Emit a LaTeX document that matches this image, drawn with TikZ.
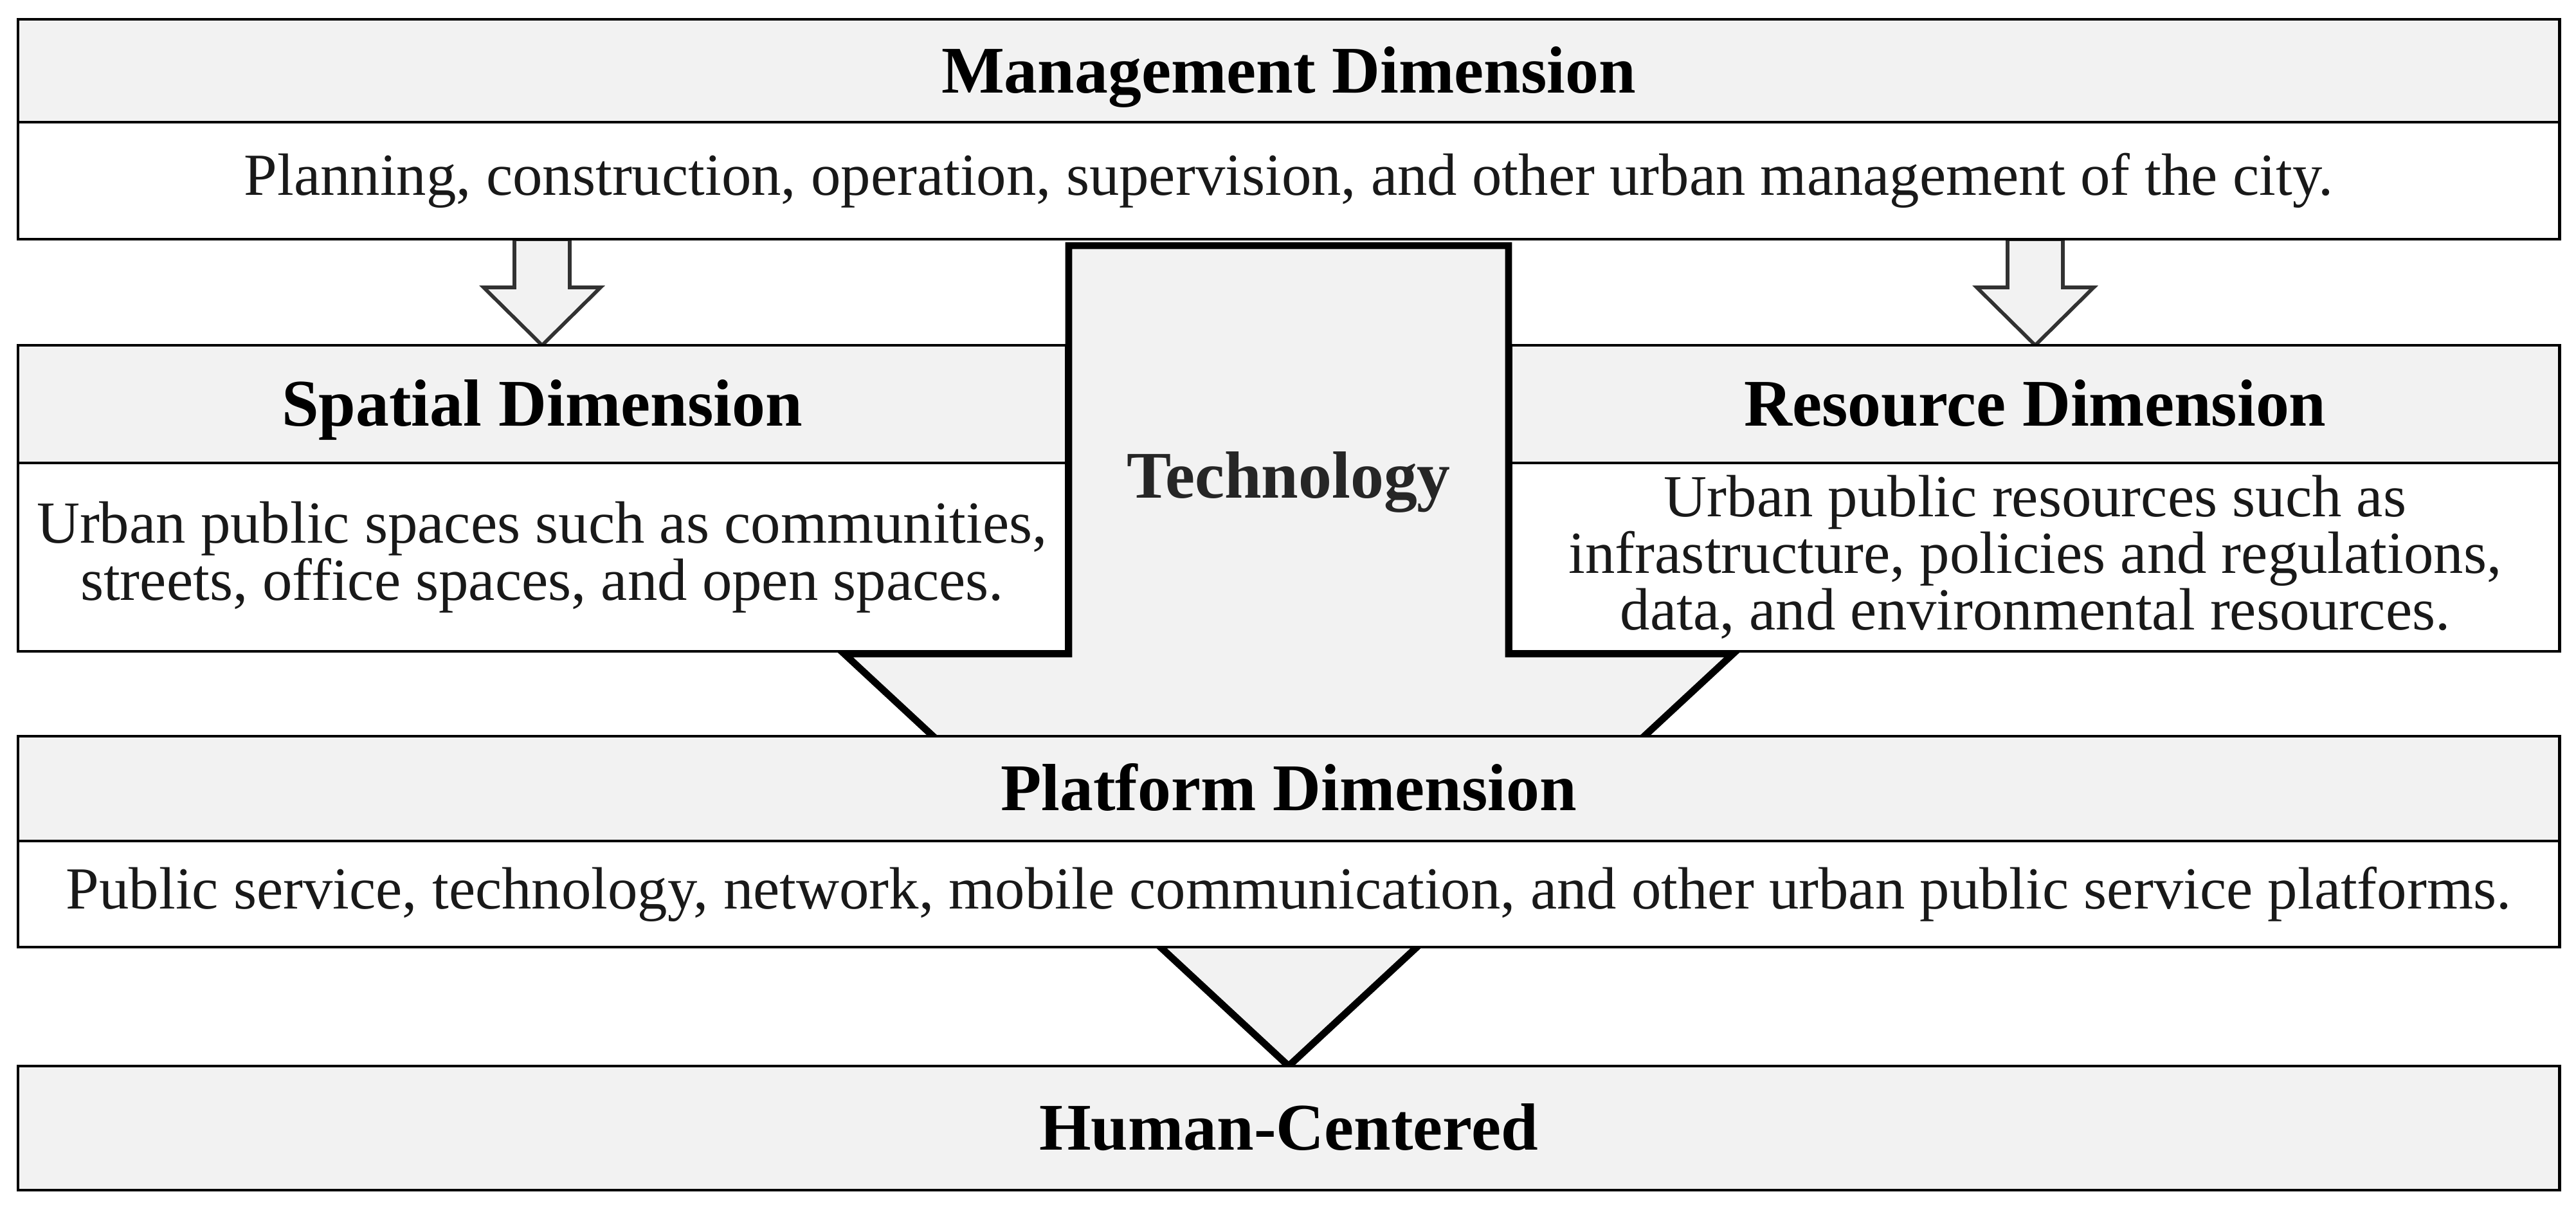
\documentclass[tikz,border=0pt]{standalone}
\usepackage{fontspec}
\setmainfont{Liberation Serif}
\usepackage{tikz}
\usetikzlibrary{positioning}
\usetikzlibrary{calc}
\usetikzlibrary{backgrounds}
\newlength{\fullwidth}
\newlength{\sidewidth}
\newlength{\vgap}
\definecolor{boxgray}{RGB}{242,242,242}
\definecolor{arrowline}{RGB}{50,50,50}
\newcommand{\headfont}{\fontsize{29.5pt}{34pt}\selectfont\bfseries}
\newcommand{\descfont}{\fontsize{26.4pt}{23.6pt}\selectfont}
\tikzstyle{head}=[draw, rectangle, fill=boxgray, font=\headfont, text depth=0pt, text height=19.5pt]
\tikzstyle{desc}=[draw, rectangle, fill=white, font=\descfont, align=center, text=black!90]
\tikzstyle{downarrow}=[draw=arrowline, fill=boxgray, line width=1.6pt, line join=miter]
\tikzstyle{bigarrow}=[draw=black, fill=boxgray, line width=3.1pt, line join=miter]

\begin{document}
\begin{tikzpicture}[inner sep=0cm, outer sep=0cm, line width=1.4pt]

\setlength{\fullwidth}{39.52cm}
\setlength{\sidewidth}{16.3cm}
\setlength{\vgap}{1.65cm}

\useasboundingbox (0,0) rectangle (40.06,18.85);

\node (mgmthead) [head, anchor=north west, minimum width=\fullwidth, minimum height=1.6cm] at (0.28,18.55) {Management Dimension};
\node (mgmtdesc) [desc, below=0cm of mgmthead, minimum width=\fullwidth, minimum height=1.82cm] {Planning, construction, operation, supervision, and other urban management of the city.};

\node (spatialhead) [head, below right=\vgap and 0cm of mgmtdesc.south west, minimum width=\sidewidth, minimum height=1.83cm] {Spatial Dimension};
\node (spatialdesc) [desc, below=0cm of spatialhead, minimum width=\sidewidth, minimum height=2.93cm] {Urban public spaces such as communities,\\ streets, office spaces, and open spaces.};

\node (resourcehead) [head, below left=\vgap and 0cm of mgmtdesc.south east, minimum width=\sidewidth, minimum height=1.83cm] {Resource Dimension};
\node (resourcedesc) [desc, below=0cm of resourcehead, minimum width=\sidewidth, minimum height=2.93cm] {Urban public resources such as\\ infrastructure, policies and regulations,\\ data, and environmental resources.};

\node (platformhead) [head, below right=1.32cm and 0cm of spatialdesc.south west, minimum width=\fullwidth, minimum height=1.63cm] {Platform Dimension};
\node (platformdesc) [desc, below=0cm of platformhead, minimum width=\fullwidth, minimum height=1.65cm] {Public service, technology, network, mobile communication, and other urban public service platforms.};

\node (human) [head, below=1.85cm of platformdesc, minimum width=\fullwidth, minimum height=1.93cm] {Human-Centered};

\node (tech) [font=\headfont, text=black!85, text depth=0pt, text height=19.5pt] at ($(mgmtdesc.south |- spatialdesc.north)+(0,-0.2)$) {Technology};

\begin{scope}[on background layer]
\coordinate (techtop) at ($(mgmtdesc.south)+(0,-0.1)$);
\coordinate (techneck) at ($(spatialdesc.south -| techtop)+(0,-0.04)$);
\draw[bigarrow] ($(techtop)+(-3.42,0)$) -- ($(techneck)+(-3.42,0)$) -- ($(techneck)+(-6.91,0)$) -- (human.north) -- ($(techneck)+(6.91,0)$) -- ($(techneck)+(3.42,0)$) -- ($(techtop)+(3.42,0)$) -- cycle;
\foreach \target in {spatialhead, resourcehead} {
  \draw[downarrow] (\target.north) -- ++(0.91,0.9) -- ++(-0.48,0) -- ++(0,0.75) -- ++(-0.86,0) -- ++(0,-0.75) -- ++(-0.48,0) -- cycle;
}
\end{scope}

\end{tikzpicture}
\end{document}
